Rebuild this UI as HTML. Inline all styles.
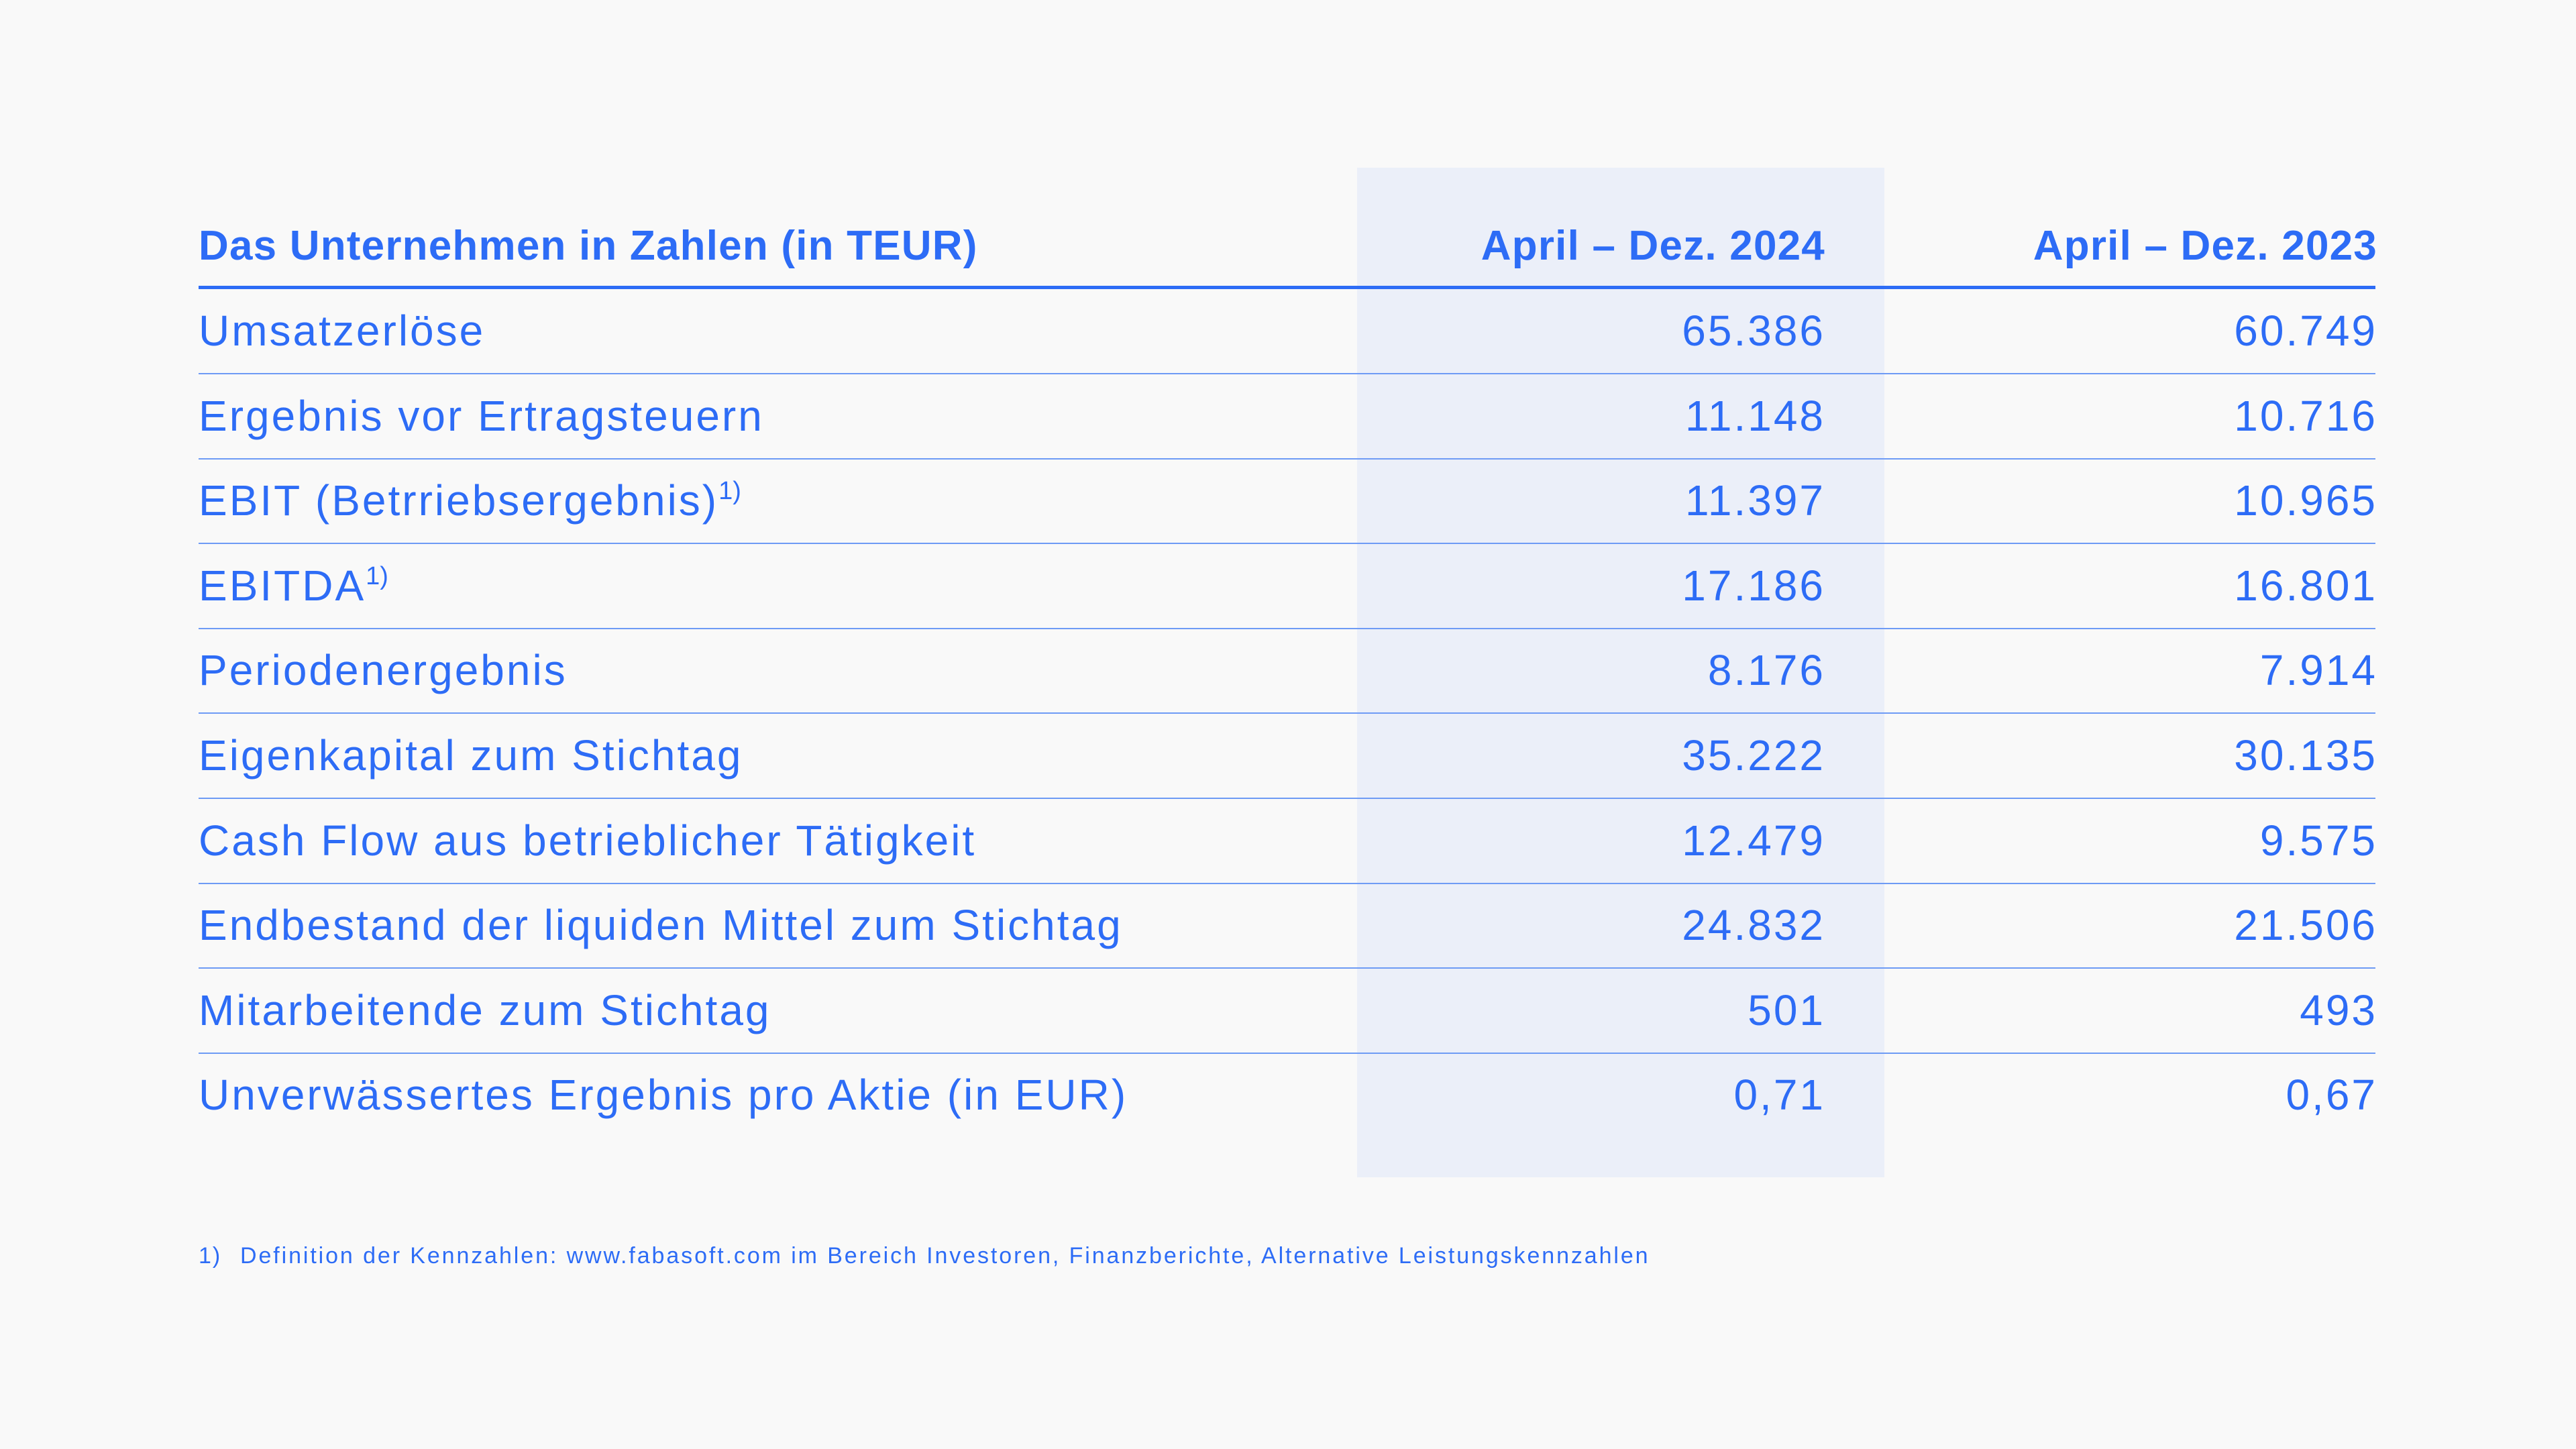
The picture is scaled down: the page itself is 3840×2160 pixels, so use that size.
<!DOCTYPE html>
<html><head><meta charset="utf-8"><style>
body{margin:0;width:3840px;height:2160px;background:#f9f9f9;position:relative;overflow:hidden;font-family:"Liberation Sans",sans-serif;color:#2d6cf6}
.shade{position:absolute;left:2023px;top:250px;width:786px;height:1505px;background:#ebeff9}
.t{position:absolute;font-size:64px;line-height:64px;white-space:nowrap;letter-spacing:3px}
.l{left:296px}
.c1{right:1122px;text-align:right;margin-right:-3px}
.c2{right:299px;text-align:right;margin-right:-3px}
.b{font-weight:bold;font-size:62px;letter-spacing:1.2px}
.line{position:absolute;left:296px;width:3245px;height:2px;background:#6e9bf5}
sup{font-size:38px;vertical-align:24px;line-height:0;letter-spacing:0}
</style></head><body>
<div class="shade"></div>
<div class="t l b" style="top:335px">Das Unternehmen in Zahlen (in TEUR)</div>
<div class="t c1 b" style="top:335px">April – Dez. 2024</div>
<div class="t c2 b" style="top:335px">April – Dez. 2023</div>
<div class="line" style="top:426px;height:5px;background:#2d6cf6"></div>

<div class="t l" style="top:461px">Umsatzerlöse</div><div class="t c1" style="top:461px">65.386</div><div class="t c2" style="top:461px">60.749</div>
<div class="line" style="top:556px"></div>
<div class="t l" style="top:588px">Ergebnis vor Ertragsteuern</div><div class="t c1" style="top:588px">11.148</div><div class="t c2" style="top:588px">10.716</div>
<div class="line" style="top:683px"></div>
<div class="t l" style="top:714px">EBIT (Betrriebsergebnis)<sup>1)</sup></div><div class="t c1" style="top:714px">11.397</div><div class="t c2" style="top:714px">10.965</div>
<div class="line" style="top:809px"></div>
<div class="t l" style="top:841px">EBITDA<sup>1)</sup></div><div class="t c1" style="top:841px">17.186</div><div class="t c2" style="top:841px">16.801</div>
<div class="line" style="top:936px"></div>
<div class="t l" style="top:967px">Periodenergebnis</div><div class="t c1" style="top:967px">8.176</div><div class="t c2" style="top:967px">7.914</div>
<div class="line" style="top:1062px"></div>
<div class="t l" style="top:1094px">Eigenkapital zum Stichtag</div><div class="t c1" style="top:1094px">35.222</div><div class="t c2" style="top:1094px">30.135</div>
<div class="line" style="top:1189px"></div>
<div class="t l" style="top:1221px">Cash Flow aus betrieblicher Tätigkeit</div><div class="t c1" style="top:1221px">12.479</div><div class="t c2" style="top:1221px">9.575</div>
<div class="line" style="top:1316px"></div>
<div class="t l" style="top:1347px">Endbestand der liquiden Mittel zum Stichtag</div><div class="t c1" style="top:1347px">24.832</div><div class="t c2" style="top:1347px">21.506</div>
<div class="line" style="top:1442px"></div>
<div class="t l" style="top:1474px">Mitarbeitende zum Stichtag</div><div class="t c1" style="top:1474px">501</div><div class="t c2" style="top:1474px">493</div>
<div class="line" style="top:1569px"></div>
<div class="t l" style="top:1600px">Unverwässertes Ergebnis pro Aktie (in EUR)</div><div class="t c1" style="top:1600px">0,71</div><div class="t c2" style="top:1600px">0,67</div>

<div class="t" style="left:296px;top:1855px;font-size:34px;line-height:34px;letter-spacing:2px">1)</div>
<div class="t" style="left:358px;top:1855px;font-size:34px;line-height:34px;letter-spacing:2.9px">Definition der Kennzahlen: www.fabasoft.com im Bereich Investoren, Finanzberichte, Alternative Leistungskennzahlen</div>
</body></html>
